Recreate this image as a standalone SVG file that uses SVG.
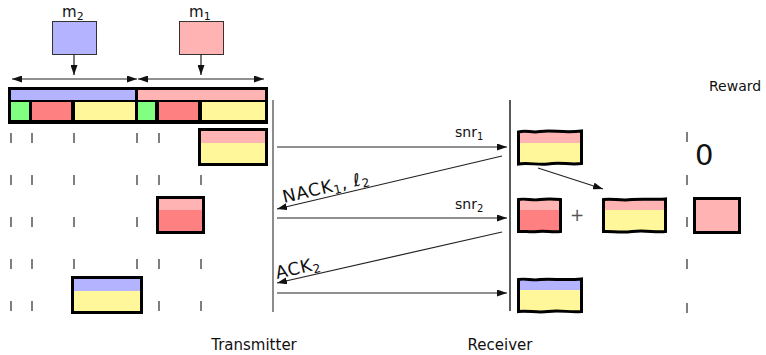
<svg xmlns="http://www.w3.org/2000/svg" width="766" height="355" viewBox="0 0 766 355">
  <style>
    .lbl { font-family: "DejaVu Sans", "Liberation Sans", sans-serif; fill: #111; }
    .tick { stroke: #555; stroke-width: 1.5; }
    .conn { stroke: #222; stroke-width: 1.2; fill: none; }
    .frame { stroke: #000; stroke-width: 3; fill: none; }
    .blue { fill: #b3b3ff; }
    .pink { fill: #ffb3b3; }
    .red { fill: #ff8080; }
    .yellow { fill: #fff799; }
    .green { fill: #80ff80; }
  </style>
  <defs>
    <marker id="head" viewBox="0 0 10 7" refX="10" refY="3.5" markerWidth="10" markerHeight="7" markerUnits="userSpaceOnUse" orient="auto-start-reverse">
      <path d="M0,0 L10,3.5 L0,7 Z" fill="#111"/>
    </marker>
    <!-- torn-edge outlines of the received blocks -->
    <path id="rx1" d="M518.5,132 C526,130 532,133 540,131.5 C552,130 565,133 581.5,131 L581.5,163.5 C570,165 560,162 548,164 C538,165.5 528,162 518.5,164 Z"/>
    <path id="rx2a" d="M518.5,199.5 C526,198 532,201 540,199.5 C548,198.5 555,199 560.5,199.5 L560.5,231.5 C552,232.5 545,230.5 538,231.5 C530,232.5 525,231 518.5,231.5 Z"/>
    <path id="rx2b" d="M603.5,199.5 C612,198 620,201 632,199.5 C645,198.5 655,200 665.5,199 L665.5,231.5 C655,232.5 645,230 632,231.5 C620,233 612,231 603.5,231.5 Z"/>
    <path id="rx3" d="M518.5,279.5 C526,278 532,281 540,279.5 C552,278.5 565,280.5 581.5,279 L581.5,311.5 C570,312.5 560,310 548,311.5 C538,313 528,310.5 518.5,311.5 Z"/>
    <clipPath id="c1"><use href="#rx1"/></clipPath>
    <clipPath id="c2a"><use href="#rx2a"/></clipPath>
    <clipPath id="c2b"><use href="#rx2b"/></clipPath>
    <clipPath id="c3"><use href="#rx3"/></clipPath>
  </defs>
  <rect width="766" height="355" fill="#fff"/>

  <!-- messages -->
  <g id="msg-m2">
    <rect x="52.5" y="21.5" width="44" height="33" class="blue" stroke="#333" stroke-width="1"/>
    <text class="lbl" x="62" y="17" font-size="15">m<tspan font-size="11" dy="3">2</tspan></text>
  </g>
  <g id="msg-m1">
    <rect x="179.5" y="21.5" width="44" height="33" class="pink" stroke="#333" stroke-width="1"/>
    <text class="lbl" x="189" y="17" font-size="15">m<tspan font-size="11" dy="3">1</tspan></text>
  </g>

  <!-- encoded packet -->
  <g id="packet">
    <rect x="8" y="87" width="260" height="37" fill="#000"/>
    <rect x="11" y="90" width="124" height="10" class="blue"/>
    <rect x="138" y="90" width="127" height="10" class="pink"/>
    <rect x="11" y="102" width="18" height="18" class="green"/>
    <rect x="32" y="102" width="39" height="18" class="red"/>
    <rect x="75" y="102" width="60" height="18" class="yellow"/>
    <rect x="138" y="102" width="17" height="18" class="green"/>
    <rect x="159" y="102" width="39" height="18" class="red"/>
    <rect x="202" y="102" width="63" height="18" class="yellow"/>
  </g>

  <!-- time slot ticks -->
  <g id="ticks">
    <path class="tick" d="M11,133V143M32,133V143M74,133V143M137,133V143M159,133V143"/>
    <path class="tick" d="M11,175V185M32,175V185M74,175V185M137,175V185M159,175V185M201,175V185"/>
    <path class="tick" d="M11,217V227M32,217V227M74,217V227M137,217V227"/>
    <path class="tick" d="M11,259V269M32,259V269M74,259V269M137,259V269M159,259V269M201,259V269"/>
    <path class="tick" d="M11,301V311M32,301V311M159,301V311M201,301V311"/>
    <path class="tick" d="M687,132V142M687,175V185M687,217V227M687,259V269M687,303V313"/>
  </g>

  <!-- transmitted blocks -->
  <g id="tx1">
    <rect x="201" y="131" width="64" height="12" class="pink"/>
    <rect x="201" y="143" width="64" height="20" class="yellow"/>
    <rect x="199.5" y="129.5" width="67" height="35" class="frame"/>
  </g>
  <g id="tx2">
    <rect x="159" y="199" width="43" height="11" class="pink"/>
    <rect x="159" y="210" width="43" height="22" class="red"/>
    <rect x="157.5" y="197.5" width="46" height="35" class="frame"/>
  </g>
  <g id="tx3">
    <rect x="74" y="279" width="66" height="12" class="blue"/>
    <rect x="74" y="291" width="66" height="21" class="yellow"/>
    <rect x="72.5" y="277.5" width="69" height="35" class="frame"/>
  </g>

  <!-- received blocks -->
  <g id="rx-1">
    <g clip-path="url(#c1)">
      <rect x="517" y="129" width="66" height="14" class="pink"/>
      <rect x="517" y="143" width="66" height="24" class="yellow"/>
    </g>
    <use href="#rx1" class="frame"/>
  </g>
  <g id="rx-2a">
    <g clip-path="url(#c2a)">
      <rect x="517" y="196" width="46" height="14" class="pink"/>
      <rect x="517" y="210" width="46" height="25" class="red"/>
    </g>
    <use href="#rx2a" class="frame"/>
  </g>
  <g id="rx-2b">
    <g clip-path="url(#c2b)">
      <rect x="602" y="196" width="66" height="14" class="pink"/>
      <rect x="602" y="210" width="66" height="25" class="yellow"/>
    </g>
    <use href="#rx2b" class="frame"/>
  </g>
  <g id="rx-3">
    <g clip-path="url(#c3)">
      <rect x="517" y="276" width="66" height="14" class="blue"/>
      <rect x="517" y="290" width="66" height="25" class="yellow"/>
    </g>
    <use href="#rx3" class="frame"/>
  </g>
  <g id="plus">
    <text x="577" y="221" font-size="17" text-anchor="middle" fill="#555" font-family="DejaVu Sans, sans-serif">+</text>
  </g>
  <g id="reward-block">
    <rect x="694.5" y="198.5" width="45" height="34" class="pink" stroke="#000" stroke-width="3"/>
  </g>

  <!-- lifelines -->
  <g id="transmitter">
    <line x1="273" y1="100" x2="273" y2="312" stroke="#666" stroke-width="1.5"/>
    <text class="lbl" x="254" y="350" font-size="15" text-anchor="middle">Transmitter</text>
  </g>
  <g id="receiver">
    <line x1="510" y1="100" x2="510" y2="311" stroke="#222" stroke-width="1.5"/>
    <text class="lbl" x="500" y="350" font-size="15" text-anchor="middle">Receiver</text>
  </g>
  <g id="reward">
    <text class="lbl" x="709" y="91" font-size="14">Reward</text>
    <text class="lbl" x="695" y="165" font-size="29">0</text>
  </g>

  <!-- connectors -->
  <g id="connectors">
    <line class="conn" x1="74" y1="54" x2="74" y2="75" marker-end="url(#head)"/>
    <line class="conn" x1="201" y1="54" x2="201" y2="75" marker-end="url(#head)"/>
    <line class="conn" x1="12" y1="79" x2="137" y2="79" marker-start="url(#head)" marker-end="url(#head)"/>
    <line class="conn" x1="138" y1="79" x2="264" y2="79" marker-start="url(#head)" marker-end="url(#head)"/>

    <line class="conn" x1="277" y1="147" x2="507" y2="147" marker-end="url(#head)"/>
    <line class="conn" x1="502" y1="156" x2="277" y2="209" marker-end="url(#head)"/>
    <line class="conn" x1="277" y1="218" x2="507" y2="218" marker-end="url(#head)"/>
    <line class="conn" x1="502" y1="232" x2="277" y2="283" marker-end="url(#head)"/>
    <line class="conn" x1="277" y1="293" x2="507" y2="293" marker-end="url(#head)"/>
    <line class="conn" x1="538" y1="168" x2="603" y2="189" marker-end="url(#head)"/>

    <text class="lbl" x="455" y="137" font-size="14">snr<tspan font-size="10" dy="3">1</tspan></text>
    <text class="lbl" x="455" y="209" font-size="14">snr<tspan font-size="10" dy="3">2</tspan></text>
    <text class="lbl" font-size="17.5" transform="translate(284,203) rotate(-13)" textLength="88" lengthAdjust="spacing">NACK<tspan font-size="12" dy="3">1</tspan><tspan dy="-3">, </tspan><tspan font-style="italic">ℓ</tspan><tspan font-size="12" dy="3">2</tspan></text>
    <text class="lbl" font-size="17.5" transform="translate(277,279) rotate(-13)" textLength="45" lengthAdjust="spacing">ACK<tspan font-size="12" dy="3">2</tspan></text>
  </g>
</svg>
